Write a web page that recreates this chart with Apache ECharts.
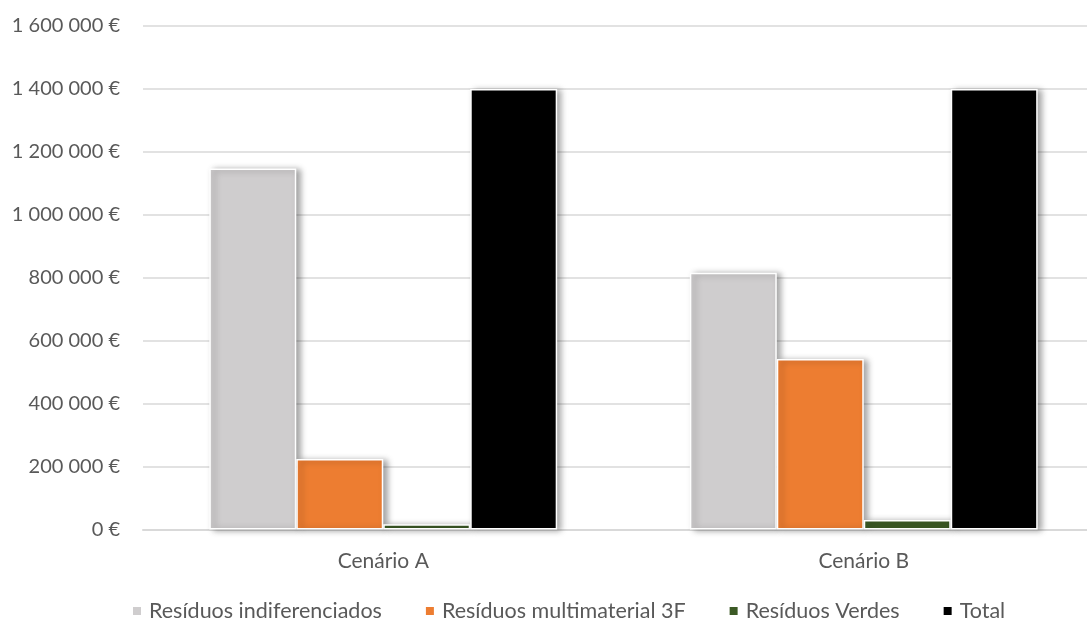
<!DOCTYPE html>
<html>
<head>
<meta charset="utf-8">
<script src="https://cdn.jsdelivr.net/npm/echarts@6/dist/echarts.min.js"></script>
<style>
  html, body { margin: 0; padding: 0; background: #ffffff; }
  #chart { width: 1087px; height: 619px; }
</style>
</head>
<body>
<div id="chart"></div>
<script>
// Scenario costs per waste stream (EUR)
const categories = ['Cenário A', 'Cenário B'];
const seriesNames = ['Resíduos indiferenciados', 'Resíduos multimaterial 3F', 'Resíduos Verdes', 'Total'];
const indiferenciados = [1147000, 816000];
const multimaterial3F = [224000, 542000];
const verdes = [17000, 30000];
const total = [1400000, 1400000];
const yTicks = [0, 200000, 400000, 600000, 800000, 1000000, 1200000, 1400000, 1600000];

const colors = ['#cfcdce', '#ed7d31', '#3c5a25', '#000000'];
const values = [indiferenciados, multimaterial3F, verdes, total];

const fmtEuro = v => String(Math.round(v)).replace(/\B(?=(\d{3})+(?!\d))/g, ' ') + ' €';

const chart = echarts.init(document.getElementById('chart'), null, { renderer: 'canvas' });
chart.setOption({
  animation: false,
  backgroundColor: '#ffffff',
  textStyle: { fontFamily: 'Lato, "Open Sans", sans-serif' },
  // plot area runs past the right edge of the canvas
  grid: { left: 143, right: -17, top: 26, bottom: 89.5, containLabel: false, outerBoundsMode: 'none' },
  legend: {
    top: 595,
    left: 126,
    itemWidth: 10,
    itemHeight: 10,
    itemGap: 42,
    icon: 'rect',
    textStyle: { color: '#595959', fontSize: 21.5, fontFamily: 'Lato, sans-serif', padding: [0, 0, 0, 2] },
    data: seriesNames
  },
  xAxis: {
    type: 'category',
    data: categories,
    axisLine: { show: true, lineStyle: { color: '#d9d9d9', width: 2 } },
    axisTick: { show: false },
    axisLabel: { color: '#595959', fontSize: 21, margin: 21, fontFamily: 'Lato, sans-serif' },
    splitLine: { show: false }
  },
  yAxis: {
    type: 'value',
    min: yTicks[0],
    max: yTicks[yTicks.length - 1],
    interval: yTicks[1] - yTicks[0],
    axisLine: { show: false },
    axisTick: { show: false },
    axisLabel: { color: '#595959', fontSize: 20, margin: 23, formatter: fmtEuro, fontFamily: 'Lato, sans-serif' },
    splitLine: { lineStyle: { color: '#d9d9d9', width: 1.5 } }
  },
  series: seriesNames.map((name, i) => ({
    name: name,
    type: 'bar',
    data: values[i],
    barGap: '0%',
    barCategoryGap: '27.6%',
    itemStyle: {
      color: colors[i],
      borderColor: '#ffffff',
      borderWidth: 1.5,
      shadowColor: 'rgba(0,0,0,0.35)',
      shadowBlur: 6,
      shadowOffsetX: 4,
      shadowOffsetY: 1
    }
  }))
});
</script>
</body>
</html>
